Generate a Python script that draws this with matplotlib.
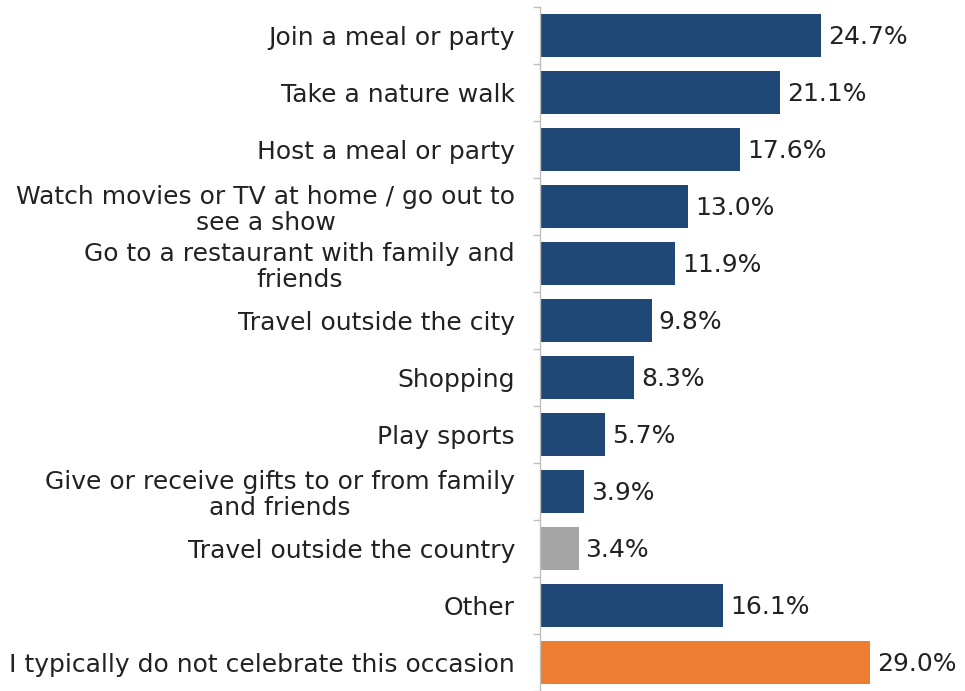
import numpy as np
import matplotlib
matplotlib.use('Agg')
from matplotlib import pyplot as plt

labels = [
    'Join a meal or party',
    'Take a nature walk',
    'Host a meal or party',
    'Watch movies or TV at home / go out to\nsee a show',
    'Go to a restaurant with family and\nfriends',
    'Travel outside the city',
    'Shopping',
    'Play sports',
    'Give or receive gifts to or from family\nand friends',
    'Travel outside the country',
    'Other',
    'I typically do not celebrate this occasion',
]
values = [24.7, 21.1, 17.6, 13.0, 11.9, 9.8, 8.3, 5.7, 3.9, 3.4, 16.1, 29.0]

navy = '#1F4876'
colors = [navy] * 9 + ['#A5A5A5', navy, '#ED7D31']

plt.rcParams['font.family'] = ['DejaVu Sans']
text_color = '#222222'

W, H = 965, 691
fig = plt.figure(figsize=(W / 100, H / 100), dpi=100)
# axis starts at x=540px, 11.38 px per percentage point
ax_w = 425
ax = fig.add_axes([540 / W, 0, ax_w / W, 684 / H])

y = np.arange(len(labels))
ax.barh(y, values, height=0.77, color=colors)
for yi, v in zip(y, values):
    ax.text(v + 0.6, yi + 0.03, f'{v:.1f}%', va='center', ha='left',
            fontsize=18, color=text_color)

ax.set_ylim(len(labels) - 0.5, -0.5)
ax.set_xlim(0, ax_w / 11.38)

ax.set_yticks(y)
ax.set_yticklabels(labels, fontsize=18, color=text_color,
                   multialignment='center', linespacing=1.1)
ax.tick_params(axis='y', which='major', length=0, pad=18)
ax.set_yticks(np.arange(-0.5, len(labels) + 0.5, 1), minor=True)
ax.tick_params(axis='y', which='minor', length=5, color='#BFBFBF', width=1)

ax.set_xticks([])
for side in ['top', 'right', 'bottom']:
    ax.spines[side].set_visible(False)
ax.spines['left'].set_color('#BFBFBF')
ax.spines['left'].set_linewidth(1)

plt.savefig('out.png', dpi=100)
